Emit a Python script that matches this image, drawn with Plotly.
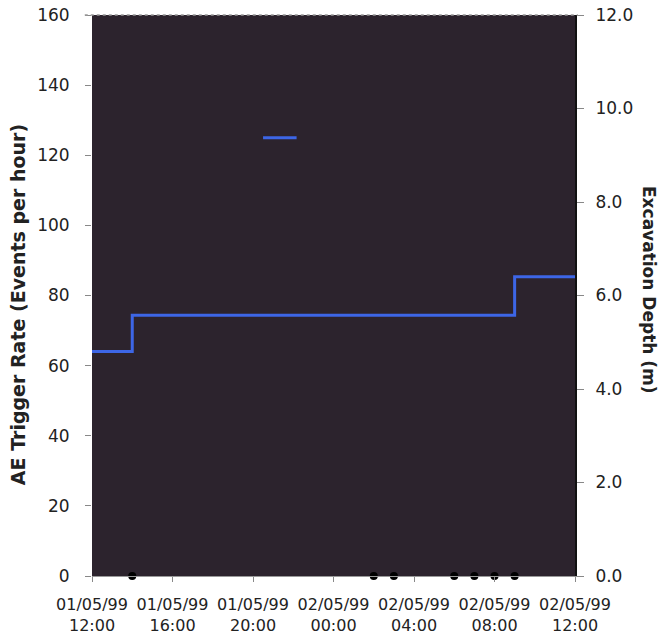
import plotly.graph_objects as go

# Excavation depth (right axis, m) - step line
depth_times = ["1999-05-01 12:00", "1999-05-01 14:00", "1999-05-02 09:00", "1999-05-02 12:00"]
depth_values = [4.8, 5.58, 6.4, 6.4]

# Short blue segment (left axis)
seg_times = ["1999-05-01 20:30", "1999-05-01 22:10"]
seg_values = [125, 125]

# AE trigger rate points at zero (left axis)
ae_times = ["1999-05-01 14:00", "1999-05-02 02:00", "1999-05-02 03:00",
            "1999-05-02 06:00", "1999-05-02 07:00", "1999-05-02 08:00", "1999-05-02 09:00"]
ae_values = [0, 0, 0, 0, 0, 0, 0]

x_tickvals = ["1999-05-01 12:00", "1999-05-01 16:00", "1999-05-01 20:00", "1999-05-02 00:00",
              "1999-05-02 04:00", "1999-05-02 08:00", "1999-05-02 12:00"]
x_ticktext = ["01/05/99<br>12:00", "01/05/99<br>16:00", "01/05/99<br>20:00", "02/05/99<br>00:00",
              "02/05/99<br>04:00", "02/05/99<br>08:00", "02/05/99<br>12:00"]
left_ticks = [0, 20, 40, 60, 80, 100, 120, 140, 160]
right_ticks = [0, 2, 4, 6, 8, 10, 12]
right_ticktext = ["0.0", "2.0", "4.0", "6.0", "8.0", "10.0", "12.0"]

blue = "#3d66e6"
font = "DejaVu Sans"

fig = go.Figure()
fig.add_trace(go.Scatter(x=depth_times, y=depth_values, mode="lines", line_shape="hv",
                         line=dict(color=blue, width=3), yaxis="y2", showlegend=False))
fig.add_trace(go.Scatter(x=seg_times, y=seg_values, mode="lines",
                         line=dict(color=blue, width=3), showlegend=False))
fig.add_trace(go.Scatter(x=ae_times, y=ae_values, mode="markers", cliponaxis=False,
                         marker=dict(color="black", size=8), showlegend=False))

fig.update_layout(
    width=659, height=637,
    margin=dict(l=92, r=84, t=15, b=61, autoexpand=False),
    paper_bgcolor="white", plot_bgcolor="#2c232d",
    font=dict(family=font, size=16, color="#222"),
    xaxis=dict(type="date", range=["1999-05-01 12:00", "1999-05-02 12:00"], automargin=False,
               tickvals=x_tickvals, ticktext=x_ticktext, showgrid=False, zeroline=False,
               ticks="outside", ticklen=5, tickcolor="#888", showline=True, linecolor="#999",
               linewidth=1, ticklabelstandoff=9,
               tickfont=dict(family=font, size=16, color="#222")),
    yaxis=dict(range=[0, 160], tickvals=left_ticks, showgrid=False, zeroline=False,
               automargin=False,
               ticks="outside", ticklen=6, tickcolor="#888", ticklabelstandoff=12,
               tickfont=dict(family=font, size=17, color="#222")),
    yaxis2=dict(range=[0, 12], overlaying="y", side="right", tickvals=right_ticks,
                ticktext=right_ticktext, showgrid=False, zeroline=False, automargin=False,
                ticks="outside", ticklen=7, tickcolor="#888", ticklabelstandoff=8,
                showline=True, linecolor="#111", linewidth=2,
                tickfont=dict(family=font, size=17, color="#222")),
    annotations=[
        dict(text="<b>AE Trigger Rate (Events per hour)</b>", xref="paper", yref="paper",
             x=-0.153, y=0.483, textangle=-90, showarrow=False, xanchor="center", yanchor="middle",
             font=dict(family=font, size=19, color="#222")),
        dict(text="<b>Excavation Depth (m)</b>", xref="paper", yref="paper",
             x=1.153, y=0.51, textangle=90, showarrow=False, xanchor="center", yanchor="middle",
             font=dict(family=font, size=17, color="#222")),
    ],
    shapes=[
        dict(type="line", xref="paper", yref="paper", x0=-0.015, x1=1.006, y0=1, y1=1,
             line=dict(color="#999", width=1.5, dash="dot")),
    ],
)

fig.write_html("out.html", config={"displayModeBar": False},
               post_script="document.body.style.margin='0';")
